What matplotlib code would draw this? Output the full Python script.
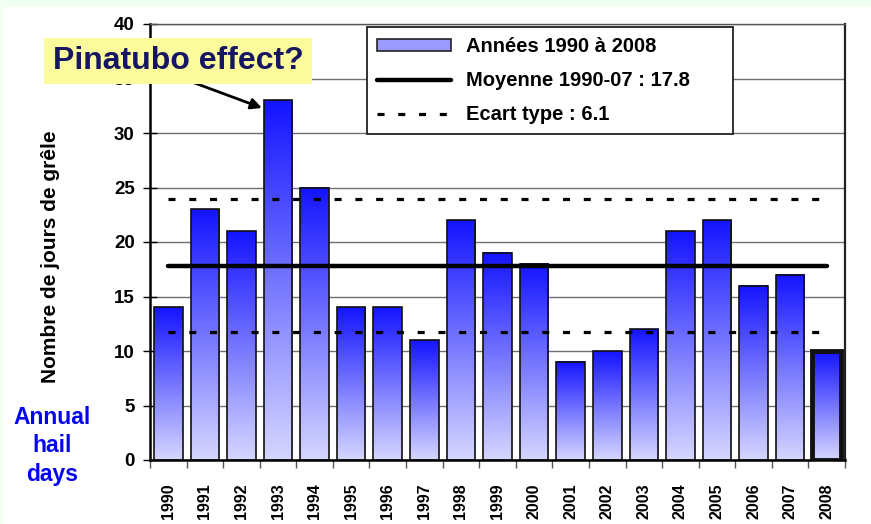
import numpy as np
import matplotlib
matplotlib.use('Agg')
import matplotlib.pyplot as plt
from matplotlib.colors import LinearSegmentedColormap
from matplotlib.patches import Rectangle, Patch
from matplotlib.lines import Line2D

plt.rcParams['font.family'] = ['Liberation Sans', 'DejaVu Sans']
plt.rcParams['font.weight'] = 'bold'

# %% Data: annual hail days
years = ['1990', '1991', '1992', '1993', '1994', '1995', '1996', '1997',
         '1998', '1999', '2000', '2001', '2002', '2003', '2004', '2005',
         '2006', '2007', '2008']
hail_days = [14, 23, 21, 33, 25, 14, 14, 11, 22, 19, 18, 9, 10, 12, 21, 22,
             16, 17, 10]
mean_90_07 = 17.8
std_90_07 = 6.1

label_bars = 'Années 1990 à 2008'
label_mean = f'Moyenne 1990-07 : {mean_90_07}'
label_std = f'Ecart type : {std_90_07}'

# %% Figure

fig = plt.figure(figsize=(8.71, 5.24), dpi=100, facecolor='white')
ax = fig.add_axes([150/871, 1 - 460/524, 695/871, 436/524])

# light green slide border
fig.patches.append(Rectangle((0, 1 - 7/524), 1, 7/524, transform=fig.transFigure,
                             facecolor='#effff1', edgecolor='none', zorder=0))
fig.patches.append(Rectangle((0, 0), 3/871, 1, transform=fig.transFigure,
                             facecolor='#effff1', edgecolor='none', zorder=0))

x = np.arange(len(years))
w = 0.78
cmap = LinearSegmentedColormap.from_list('hail', ['#d6d6ff', '#1414ff'])
ramp = np.linspace(0, 1, 256).reshape(-1, 1)

# gradient fill of each bar, then its outline
for xi, h in zip(x, hail_days):
    ax.imshow(ramp, cmap=cmap, origin='lower', aspect='auto',
              extent=(xi - w/2, xi + w/2, 0, h), zorder=2,
              interpolation='bilinear')
edge_w = [1.2] * len(years)
edge_w[-1] = 3.5
ax.bar(x, hail_days, width=w, facecolor='none', edgecolor='#111111',
       linewidth=edge_w, zorder=3)

# mean and mean +/- std lines
ax.plot([x[0], x[-1]], [mean_90_07, mean_90_07], color='black', lw=3.2,
        solid_capstyle='round', zorder=4)
for yv in (mean_90_07 + std_90_07, mean_90_07 - std_90_07):
    ax.plot([x[0], x[-1]], [yv, yv], color='black', lw=2.3,
            linestyle=(0, (2.2, 4.3)), dash_capstyle='butt', zorder=4)

ax.set_xlim(-0.5, len(years) - 0.5)
ax.set_ylim(0, 40)
ax.set_yticks(np.arange(0, 41, 5))
ax.yaxis.grid(True, color='#707070', lw=1.0, zorder=0)
ax.set_axisbelow(True)

ax.set_xticks(x)
ax.set_xticklabels(years, rotation=90, fontsize=11.5, fontweight='bold')
ax.set_xticks(np.arange(-0.5, len(years)), minor=True)
ax.tick_params(axis='x', which='major', length=0, pad=17)
ax.tick_params(axis='x', which='minor', length=6, width=1.0, color='#555555',
               direction='out')
ax.tick_params(axis='y', which='major', length=10, width=1.0,
               direction='inout', labelsize=13.5, pad=6)
for lab in ax.get_yticklabels():
    lab.set_fontweight('bold')

ax.spines['left'].set_linewidth(1.8)
ax.spines['bottom'].set_linewidth(1.8)
ax.spines['right'].set_linewidth(1.6)
ax.spines['right'].set_color('#222222')
ax.spines['top'].set_linewidth(1.0)
ax.spines['top'].set_color('#555555')

fig.text(50/871, 1 - 257/524, 'Nombre de jours de grêle', rotation=90,
         ha='center', va='center', fontsize=15, fontweight='bold')
fig.text(52/871, 1 - 446/524, 'Annual\nhail\ndays', ha='center', va='center',
         fontsize=16.5, fontweight='bold', color='#0505f0', linespacing=1.3)

# %% Legend
handles = [Patch(facecolor='#9a9aff', edgecolor='#222222', lw=1.2),
           Line2D([], [], color='black', lw=3.2, solid_capstyle='round'),
           Line2D([], [], color='black', lw=2.3, linestyle=(0, (2.2, 4.3)))]
leg = ax.legend(handles, [label_bars, label_mean, label_std],
                loc='upper left', bbox_to_anchor=(0.312, 0.5, 0.527, 0.493),
                mode='expand',
                prop={'size': 14.5, 'weight': 'bold'}, frameon=True,
                fancybox=False, edgecolor='#222222', framealpha=1,
                handlelength=3.7, handleheight=0.55, handletextpad=0.7,
                labelspacing=0.75, borderpad=0.5, borderaxespad=0)
leg.get_frame().set_linewidth(1.3)
leg.set_zorder(6)
leg._legend_box.align = 'left'

# %% Annotation
ax.annotate('', xy=(3 - w/2 - 0.05, hail_days[3] - 0.7), xycoords='data',
            xytext=(192/871, 1 - 82/524), textcoords='figure fraction',
            arrowprops=dict(arrowstyle='-|>', color='black', lw=2.0,
                            mutation_scale=16, shrinkA=0, shrinkB=0),
            zorder=7)
fig.text(178/871, 1 - 61/524, 'Pinatubo effect?', ha='center', va='center',
         fontsize=23, fontweight='bold', color='#161662', zorder=8,
         bbox=dict(boxstyle='square,pad=0.26', facecolor='#fbfb9e',
                   edgecolor='none'))

fig.savefig('out.png', dpi=100, facecolor=fig.get_facecolor())
